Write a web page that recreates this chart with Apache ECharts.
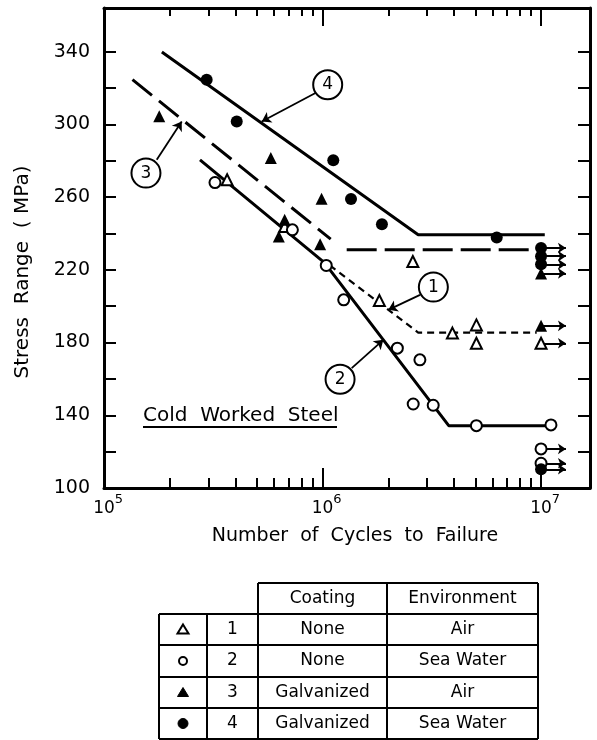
<!DOCTYPE html>
<html><head><meta charset="utf-8">
<script src="https://cdn.jsdelivr.net/npm/echarts@6/dist/echarts.min.js"></script>
<style>html,body{margin:0;padding:0;background:#fff}#c{width:597px;height:740px}</style>
</head><body><div id="c"></div>
<script>
// ---------- data ----------
const xAxisMin = 1e5, xAxisMax = 1.675e7;
const yAxisMin = 100, yAxisMax = 364;
const yTickValues = [100,120,140,160,180,200,220,240,260,280,300,320,340];
const yLabelValues = [100,140,180,220,260,300,340];
const xMajorLabels = [1e5,1e6,1e7];
const xMajorTicks = [1e6,1e7];
const xMinorTicks = [2e5,3e5,4e5,5e5,6e5,7e5,8e5,9e5,2e6,3e6,4e6,5e6,6e6,7e6,8e6,9e6];

// test points (cycles, MPa)
const openTriangles   = [[3.66e5,269.5],[6.71e5,243.8],[1.82e6,203.1],[2.59e6,224.6],[3.93e6,185.2],[5.06e6,189.7],[5.06e6,179.6]];
const openCircles     = [[3.22e5,268],[7.28e5,242],[1.04e6,222.4],[1.25e6,203.5],[2.2e6,176.9],[2.79e6,170.5],[2.6e6,146.2],[3.21e6,145.5],[5.06e6,134.3],[1.11e7,134.7]];
const filledTriangles = [[1.79e5,304.4],[5.8e5,281.5],[9.9e5,259.1],[6.71e5,247.5],[6.31e5,238.3],[9.75e5,234.1]];
const filledCircles   = [[2.95e5,324.6],[4.05e5,301.6],[1.12e6,280.2],[1.35e6,258.9],[1.87e6,245.1],[6.27e6,237.8]];

// run-outs (no failure) at 10^7 cycles
const runoutOpenTriangles   = [[1e7,179.6]];
const runoutFilledTriangles = [[1e7,218],[1e7,189.2]];
const runoutOpenCircles     = [[1e7,121.5],[1e7,113.6]];
const runoutFilledCircles   = [[1e7,232],[1e7,227.5],[1e7,223],[1e7,110.3]];

// fitted S-N curves
const curve1     = [[1.08e6,222.5],[2.74e6,185.5],[9.55e6,185.5]];
const curve2     = [[2.75e5,280.5],[1.02e6,224],[3.78e6,134.3],[1.11e7,134.3]];
const curve3a    = [[1.35e5,324.6],[1.09e6,236.9]];
const curve3b    = [[1.29e6,231],[9.55e6,231]];
const curve4     = [[1.84e5,339.8],[2.74e6,239.3],[1.04e7,239.3]];

// circled curve labels
const annotLabels  = ['1','2','3','4'];
const annotCenters = [[3.215e6,210.5],[1.203e6,159.8],[1.556e5,273.2],[1.056e6,321.8]];
const annotTails   = [[2.794e6,206.2],[1.36e6,165.9],[1.743e5,280.5],[9.33e5,317.4]];
const annotTips    = [[2.0e6,198.0],[1.898e6,181.5],[2.268e5,301.6],[5.27e5,301.6]];

// legend table
const tableHeaders = ['Coating','Environment'];
const tableIds     = ['1','2','3','4'];
const tableCoating = ['None','None','Galvanized','Galvanized'];
const tableEnv     = ['Air','Sea Water','Air','Sea Water'];

const titleY = 'Stress  Range  ( MPa)';
const titleX = 'Number  of  Cycles  to  Failure';
const noteText = 'Cold  Worked  Steel';

// ---------- chart ----------
const FONT = 'DejaVu Sans';
const BLACK = '#000';
const chart = echarts.init(document.getElementById('c'), null, {renderer:'canvas'});

function logAxis(pos, opts) {
  return Object.assign({
    type:'log', logBase:10, min:xAxisMin, max:xAxisMax, position:pos,
    axisLine:{show:false}, splitLine:{show:false}, minorTick:{show:false},
    axisLabel:{show:false}
  }, opts);
}
function valAxis(pos, opts) {
  return Object.assign({
    type:'value', min:yAxisMin, max:yAxisMax, position:pos,
    axisLine:{show:true, onZero:false, lineStyle:{color:BLACK, width:3}},
    splitLine:{show:false},
    axisTick:{show:true, inside:true, length:12, lineStyle:{color:BLACK, width:2}, customValues:yTickValues},
    axisLabel:{show:false}
  }, opts);
}

const runouts = [].concat(runoutOpenTriangles, runoutFilledTriangles, runoutOpenCircles, runoutFilledCircles);
const pointStyleOpen = {color:'#fff', borderColor:BLACK, borderWidth:2, opacity:1};
const pointStyleFill = {color:BLACK, borderColor:BLACK, borderWidth:0, opacity:1};

function curveSeries(name, data, width, type) {
  return {name, type:'line', data, symbol:'none', z:2, silent:true,
    lineStyle:{color:BLACK, width, type, opacity:1}, animation:false};
}
function pointSeries(name, data, symbol, size, style) {
  return {name, type:'scatter', data, symbol, symbolSize:size, z:4, itemStyle:style, animation:false};
}
function txt(text, x, y, size, align, extra) {
  return Object.assign({type:'text', x, y,
    style:{text, fontSize:size, fontFamily:FONT, fill:BLACK, align, verticalAlign:'middle', textAlign:align, textVerticalAlign:'middle'}}, extra || {});
}

const graphics = [];
graphics.push(txt(titleY, 23, 272, 20, 'center', {rotation:Math.PI/2}));
graphics.push(txt(titleX, 355, 536, 19, 'center'));
graphics.push(txt(noteText, 143, 416, 20, 'left'));
graphics.push({type:'line', shape:{x1:143, y1:427, x2:337, y2:427}, style:{stroke:BLACK, lineWidth:2}});

// table
const colX = [159, 207, 258, 387, 538];
const rowY = [583, 614, 645, 677, 708, 739];
const tl = (x1,y1,x2,y2) => graphics.push({type:'line', shape:{x1,y1,x2,y2}, style:{stroke:BLACK, lineWidth:2}});
tl(colX[2], rowY[0], colX[4], rowY[0]);
for (let r = 1; r < rowY.length; r++) tl(colX[0], rowY[r], colX[4], rowY[r]);
tl(colX[0], rowY[1], colX[0], rowY[5]);
tl(colX[1], rowY[1], colX[1], rowY[5]);
for (let c = 2; c < colX.length; c++) tl(colX[c], rowY[0], colX[c], rowY[5]);
const midX = c => (colX[c] + colX[c+1]) / 2;
const midY = r => (rowY[r] + rowY[r+1]) / 2;
graphics.push(txt(tableHeaders[0], midX(2), midY(0), 17, 'center'));
graphics.push(txt(tableHeaders[1], midX(3), midY(0), 17, 'center'));
for (let i = 0; i < tableIds.length; i++) {
  const cy = midY(i+1);
  graphics.push(txt(tableIds[i], midX(1), cy, 17, 'center'));
  graphics.push(txt(tableCoating[i], midX(2), cy, 17, 'center'));
  graphics.push(txt(tableEnv[i], midX(3), cy, 17, 'center'));
  const sx = midX(0);
  const filled = i >= 2;
  const st = filled ? {fill:BLACK, stroke:BLACK, lineWidth:1} : {fill:'#fff', stroke:BLACK, lineWidth:2};
  if (i % 2 === 0) {
    graphics.push({type:'polygon', shape:{points:[[sx, cy-5],[sx+5.5, cy+4],[sx-5.5, cy+4]]}, style:st});
  } else {
    graphics.push({type:'circle', shape:{cx:sx, cy:cy, r:filled ? 5 : 4}, style:st});
  }
}

const option = {
  animation:false,
  backgroundColor:'#fff',
  grid:{left:104, top:8, width:486, height:480, containLabel:false},
  xAxis:[
    logAxis('bottom', {
      axisLine:{show:true, onZero:false, lineStyle:{color:BLACK, width:3}},
      axisTick:{show:true, inside:true, length:20, lineStyle:{color:BLACK, width:2}, customValues:xMajorTicks},
      axisLabel:{show:true, customValues:xMajorLabels, margin:5, color:BLACK,
        formatter: v => '{p| }{b|10}{s|' + Math.round(Math.log10(v)) + '}',
        rich:{
          p:{width:8, fontSize:13, fontFamily:FONT},
          b:{fontSize:17, fontFamily:FONT, color:BLACK, lineHeight:24, verticalAlign:'bottom'},
          s:{fontSize:13, fontFamily:FONT, color:BLACK, lineHeight:13, width:8, verticalAlign:'top'}
        }}
    }),
    logAxis('bottom', {
      axisTick:{show:true, inside:true, length:10, lineStyle:{color:BLACK, width:2}, customValues:xMinorTicks}
    }),
    logAxis('top', {
      axisLine:{show:true, onZero:false, lineStyle:{color:BLACK, width:3}},
      axisTick:{show:true, inside:true, length:18, lineStyle:{color:BLACK, width:2}, customValues:xMajorTicks}
    }),
    logAxis('top', {
      axisTick:{show:true, inside:true, length:8, lineStyle:{color:BLACK, width:2}, customValues:xMinorTicks}
    })
  ],
  yAxis:[
    valAxis('left', {axisLabel:{show:true, customValues:yLabelValues, margin:14, color:BLACK, fontSize:19, fontFamily:FONT}}),
    valAxis('right', {})
  ],
  graphic:graphics,
  series:[
    curveSeries('1', curve1, 2.2, [7,5]),
    curveSeries('2', curve2, 3, 'solid'),
    curveSeries('3', curve3a, 3, [25,9]),
    curveSeries('3 ', curve3b, 3, [30,8]),
    curveSeries('4', curve4, 3, 'solid'),
    {type:'lines', coordinateSystem:'cartesian2d', z:3, silent:true, animation:false,
      symbol:['none','arrow'], symbolSize:8,
      lineStyle:{color:BLACK, width:2, opacity:1},
      data: runouts.map(p => ({coords:[[p[0], p[1]], [p[0]*1.3, p[1]]]}))},
    pointSeries('1', openTriangles.concat(runoutOpenTriangles), 'triangle', 11, pointStyleOpen),
    pointSeries('2', openCircles.concat(runoutOpenCircles), 'circle', 11, pointStyleOpen),
    pointSeries('3', filledTriangles.concat(runoutFilledTriangles), 'triangle', 12, pointStyleFill),
    pointSeries('4', filledCircles.concat(runoutFilledCircles), 'circle', 12, pointStyleFill),
    {type:'lines', coordinateSystem:'cartesian2d', z:3, silent:true, animation:false,
      symbol:['none','arrow'], symbolSize:9,
      lineStyle:{color:BLACK, width:1.8, opacity:1},
      data: annotTails.map((t, i) => ({coords:[t, annotTips[i]]}))},
    {type:'scatter', z:5, animation:false, symbol:'circle', symbolSize:29,
      itemStyle:{color:'#fff', borderColor:BLACK, borderWidth:2, opacity:1},
      label:{show:true, position:'inside', color:BLACK, fontSize:17, fontFamily:FONT, formatter: p => p.data.name},
      data: annotCenters.map((c, i) => ({name:annotLabels[i], value:c}))}
  ]
};
chart.setOption(option);
</script>
</body></html>
